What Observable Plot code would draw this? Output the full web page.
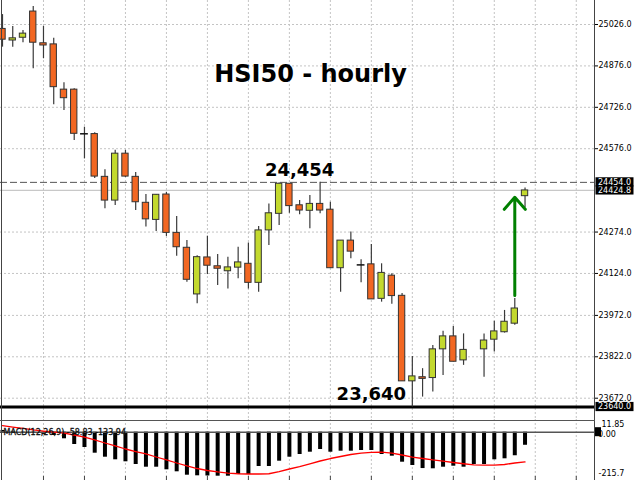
<!DOCTYPE html>
<html><head><meta charset="utf-8">
<script src="https://cdn.jsdelivr.net/npm/d3@7"></script>
<script src="https://cdn.jsdelivr.net/npm/@observablehq/plot@0.6"></script>
<style>
html,body{margin:0;padding:0;background:#fff;}
#wrap{position:relative;width:640px;height:480px;overflow:hidden;background:#fff;font-family:"DejaVu Sans",sans-serif;}
#wrap svg{position:absolute;left:0;display:block;}
.ln{position:absolute;background:#444;}
</style></head><body><div id="wrap"></div>
<script>
// ---- hourly candles (index 46 has no visible candle) ----
const opens  = [25010,24968,24978,25073,24958,24954,24790,24790,24630,24629,24474,24388,24558,24474,24380,24318,24410,24271,24217,24048,24182,24150,24132,24145,24159,24090,24280,24340,24449,24371,24351,24376,24355,24143,24243,24155,24157,24032,24116,24043,23733,23748,23745,23849,23896,23809,null,23849,23884,23911,23942,24404];
const highs  = [25062,25019,25004,25091,25019,24976,24815,24793,24654,24634,24500,24570,24570,24490,24410,24410,24418,24330,24243,24188,24259,24193,24183,24219,24234,24294,24376,24452,24450,24388,24406,24454,24382,24243,24274,24174,24229,24159,24123,24051,23823,23779,23863,23915,23932,23905,null,23905,23951,23990,24033,24434];
const lows   = [24944,24944,24960,24866,24902,24735,24714,24606,24539,24468,24358,24370,24472,24352,24292,24276,24258,24186,24092,24014,24120,24080,24068,24105,24068,24056,24225,24298,24342,24337,24286,24340,24143,24056,24177,24090,24030,24020,24012,23733,23640,23676,23694,23754,23804,23791,null,23748,23839,23908,23936,24362];
const closes = [24971,24976,24993,24960,24950,24799,24759,24630,24630,24475,24388,24558,24475,24382,24320,24409,24271,24219,24101,24183,24152,24141,24146,24164,24090,24280,24342,24449,24368,24352,24376,24352,24143,24243,24203,24155,24030,24126,24042,23733,23751,23742,23849,23896,23804,23847,null,23881,23914,23949,23997,24424.8];

// ---- MACD(12,26,9) ----
const macdHist = [8,4,-2,-6,-10,-14.9,-29.7,-55.4,-68.9,-94.5,-112.5,-124.2,-133.2,-145.4,-157.5,-157.5,-169.2,-178.2,-193.5,-196.2,-197,-198,-198,-190.4,-190.4,-154.4,-154.4,-130.5,-112.5,-100.4,-90,-77.9,-90,-85.5,-85.5,-82.4,-82.4,-100.4,-108,-135,-149.9,-163.6,-164.7,-157.5,-153,-157.5,-145.4,-145.4,-124.2,-119.7,-106,-58.83];
const macdSignal = [30,23,17,10,4.5,0,-4.5,-12.6,-22.5,-35,-48.6,-62,-75.6,-86.9,-98,-111.6,-125,-138.6,-152,-163.4,-172.4,-179,-184.5,-187,-188,-188,-187,-177,-165.6,-154.4,-142,-129.6,-118.4,-109.4,-100.4,-94.5,-90.5,-90,-94.5,-102.6,-112.5,-118.4,-125,-130.5,-136.4,-142,-146.7,-148.5,-148.5,-145.4,-138.6,-133.94];

// ---- axis ticks and labels ----
const priceTicks = [25026,24876,24726,24576,24274,24124,23972,23822,23672];
const macdTicks = [11.85, 0, -215.7];
const macdTickLabels = ["11.85", "0.00", "-215.7"];
const title = "HSI50 - hourly";
const highMark = {i: 29, v: 24454, text: "24,454"};
const lowMark = {i: 36, v: 23640, text: "23,640"};
const lastPrice = 24424.8;
const arrowUp = {i: 50, from: 24044, to: 24400};

const GREEN = "#c3d92e", ORANGE = "#f26722";
const xDomain = [-0.195, 57.78];
const idx = d3.range(opens.length);
const candles = idx.filter(i => opens[i] != null).map(i => ({i, o: opens[i], h: highs[i], l: lows[i], c: closes[i]}));
const bodies = candles.filter(d => d.o !== d.c);
const dojis = candles.filter(d => d.o === d.c);
const gridX = d3.range(4, 57, 4);
const font = "DejaVu Sans";

const price = Plot.plot({
  width: 640, height: 419,
  marginLeft: 0, marginRight: 46, marginTop: 0, marginBottom: 0,
  x: {type: "linear", domain: xDomain, axis: null},
  y: {domain: [23594.8, 25113], axis: null},
  color: {type: "identity"},
  style: {fontFamily: font, fontSize: "8px", color: "black", background: "transparent", overflow: "visible"},
  marks: [
    Plot.ruleY(priceTicks, {stroke: "#c4c4c4", strokeDasharray: "2,2"}),
    Plot.ruleX(gridX, {stroke: "#c4c4c4", strokeDasharray: "2,2"}),
    Plot.ruleY([lastPrice], {stroke: "#c8c8c8", strokeWidth: 1.2}),
    Plot.ruleY([highMark.v], {stroke: "#555", strokeDasharray: "7,3"}),
    Plot.ruleY([lowMark.v], {stroke: "#000", strokeWidth: 3}),
    Plot.axisY(priceTicks, {anchor: "right", tickSize: 3, tickPadding: 1, tickFormat: d => d.toFixed(1), fontSize: 8, label: null}),
    Plot.ruleX(candles, {x: "i", y1: "l", y2: "h", stroke: "#3a3a3a", strokeWidth: 1.2}),
    Plot.rect(bodies, {x1: d => d.i - 0.31, x2: d => d.i + 0.31, y1: "o", y2: "c",
      fill: d => d.c >= d.o ? GREEN : ORANGE, stroke: "#333", strokeWidth: 1}),
    Plot.ruleY(dojis, {y: "o", x1: d => d.i - 0.38, x2: d => d.i + 0.38, stroke: "#111", strokeWidth: 1.5}),
    Plot.text([title], {frameAnchor: "top", dx: 13, dy: 64.5, fontSize: 24, fontWeight: "bold", fill: "#000"}),
    Plot.text([highMark], {x: "i", y: "v", text: "text", dy: -6, lineAnchor: "bottom", fontSize: 18, fontWeight: "bold", fill: "#000"}),
    Plot.text([lowMark], {x: "i", y: "v", text: "text", dy: -7, lineAnchor: "bottom", fontSize: 18, fontWeight: "bold", fill: "#000"}),
    Plot.arrow([arrowUp], {x: "i", y1: "from", y2: "to", stroke: "#008000", strokeWidth: 3, headLength: 8, headAngle: 82})
  ]
});

const macdRows = idx.map(i => ({i, h: macdHist[i], s: macdSignal[i]}));
const macdTitle = `MACD(12,26,9) ${macdHist[macdHist.length - 1].toFixed(2)} ${macdSignal[macdSignal.length - 1].toFixed(2)}`;
const macd = Plot.plot({
  width: 640, height: 61,
  marginLeft: 0, marginRight: 46, marginTop: 0, marginBottom: 0,
  x: {type: "linear", domain: xDomain, axis: null},
  y: {domain: [-217.35, 57.15], axis: null},
  style: {fontFamily: font, fontSize: "8px", color: "black", background: "transparent", overflow: "visible"},
  marks: [
    Plot.ruleX(gridX, {stroke: "#c4c4c4", strokeDasharray: "2,2"}),
    Plot.ruleX(macdRows, {x: "i", y1: 0, y2: "h", stroke: "#000", strokeWidth: 4}),
    Plot.ruleY([0], {stroke: "#555", strokeWidth: 1.5}),
    Plot.line(macdRows, {x: "i", y: "s", stroke: "#ff0000", strokeWidth: 1.3}),
    Plot.ruleX(gridX, {stroke: "#444", insetTop: 57}),
    Plot.text([macdTitle], {frameAnchor: "top-left", textAnchor: "start", dx: 3, dy: 10, fontSize: 8, fill: "#111", stroke: "#111", strokeWidth: 0.3}),
    Plot.text([0], {y: d => macdTicks[d], text: d => macdTickLabels[d], frameAnchor: "right", textAnchor: "start", dx: 7, dy: -5.2, fontSize: 8, fill: "#000"}),
    Plot.text([2], {y: d => macdTicks[d], text: d => macdTickLabels[d], frameAnchor: "right", textAnchor: "start", dx: 4, dy: -7, fontSize: 8, fill: "#000"})
  ]
});

const wrap = document.getElementById("wrap");
price.style.top = "0px";
macd.style.top = "419px";
wrap.appendChild(price);
wrap.appendChild(macd);

// price tags on the right axis
function tag(svg, yPx, label) {
  const g = d3.select(svg).append("g").attr("text-anchor", "start");
  g.append("rect").attr("x", 595.5).attr("y", yPx - 4.6).attr("width", 38).attr("height", 9.2).attr("fill", "#000");
  g.append("text").attr("x", 598).attr("y", yPx).attr("dy", "0.35em").attr("fill", "#fff")
    .attr("text-anchor", "start").attr("font-size", 8).attr("font-family", font).text(label);
}
const py = price.scale("y");
tag(price, py.apply(lastPrice), lastPrice.toFixed(1));
tag(price, py.apply(highMark.v), highMark.v.toFixed(1));
tag(price, py.apply(lowMark.v), lowMark.v.toFixed(1));

// zero tag in MACD pane
const my = macd.scale("y");
const zy = my.apply(0);
const mg = d3.select(macd).append("g").attr("text-anchor", "start");
mg.append("rect").attr("x", 595).attr("y", zy - 4.5).attr("width", 6).attr("height", 9).attr("fill", "#000");
mg.append("text").attr("x", 598).attr("y", zy + 2.6).attr("dy", "0.35em").attr("fill", "#000")
  .attr("text-anchor", "start").attr("font-size", 8).attr("font-family", font).text(macdTickLabels[1]);

// pane frame lines
function line(css) { const d = document.createElement("div"); d.className = "ln"; Object.assign(d.style, css); wrap.appendChild(d); }
line({left: "1px", top: "0px", width: "1px", height: "480px"});
line({left: "594px", top: "0px", width: "1px", height: "480px"});
line({left: "0px", top: "420px", width: "595px", height: "1px", background: "#555"});
</script>
</body></html>
